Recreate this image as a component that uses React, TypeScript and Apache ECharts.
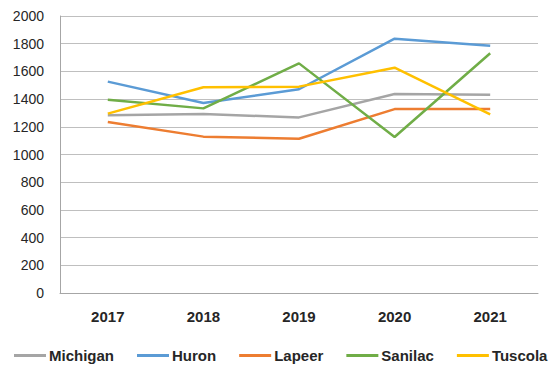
import React, { useEffect, useRef } from "react";
import * as echarts from "echarts";

const categories = ["2017", "2018", "2019", "2020", "2021"];
const michigan = [1283, 1292, 1268, 1437, 1432];
const huron = [1526, 1372, 1471, 1836, 1786];
const lapeer = [1235, 1129, 1114, 1328, 1328];
const sanilac = [1396, 1333, 1658, 1126, 1731];
const tuscola = [1295, 1485, 1490, 1627, 1290];

const seriesNames = ["Michigan", "Huron", "Lapeer", "Sanilac", "Tuscola"];
const seriesData = [michigan, huron, lapeer, sanilac, tuscola];
const colors = ["#A5A5A5", "#5B9BD5", "#ED7D31", "#70AD47", "#FFC000"];

export default function App() {
  const ref = useRef<HTMLDivElement>(null);
  useEffect(() => {
    if (!ref.current) return;
    const chart = echarts.init(ref.current, undefined, { renderer: "svg" });
    chart.setOption({
      animation: false,
      backgroundColor: "#ffffff",
      color: colors,
      grid: { left: 60, right: 13, top: 16, bottom: 74 },
      legend: {
        data: seriesNames,
        left: 14,
        top: 348,
        width: 537,
        padding: 0,
        icon: "rect",
        itemWidth: 32,
        itemHeight: 3,
        itemGap: 23,
        textStyle: {
          fontFamily: "Liberation Sans",
          fontWeight: "bold",
          fontSize: 15,
          color: "#262626",
          padding: [0, 0, 0, -2],
        },
      },
      xAxis: {
        type: "category",
        data: categories,
        boundaryGap: true,
        axisLine: { show: true, lineStyle: { color: "#A6A6A6", width: 1 } },
        axisTick: { show: false },
        axisLabel: {
          margin: 16,
          fontFamily: "Liberation Sans",
          fontWeight: "bold",
          fontSize: 15,
          color: "#262626",
        },
      },
      yAxis: {
        type: "value",
        min: 0,
        max: 2000,
        interval: 200,
        axisLine: { show: true, lineStyle: { color: "#A6A6A6", width: 1 } },
        axisTick: { show: false },
        splitLine: { show: true, lineStyle: { color: "#BFBFBF", width: 1 } },
        axisLabel: {
          margin: 16,
          fontFamily: "Liberation Sans",
          fontSize: 14,
          color: "#262626",
          formatter: (v: number) => String(v),
        },
      },
      series: seriesNames.map((name, i) => ({
        name,
        type: "line",
        data: seriesData[i],
        symbol: "none",
        lineStyle: { width: 2.5, color: colors[i] },
        itemStyle: { color: colors[i] },
      })),
    });
    return () => chart.dispose();
  }, []);
  return <div ref={ref} style={{ width: 551, height: 367, position: "absolute", left: 0, top: 0 }} />;
}
